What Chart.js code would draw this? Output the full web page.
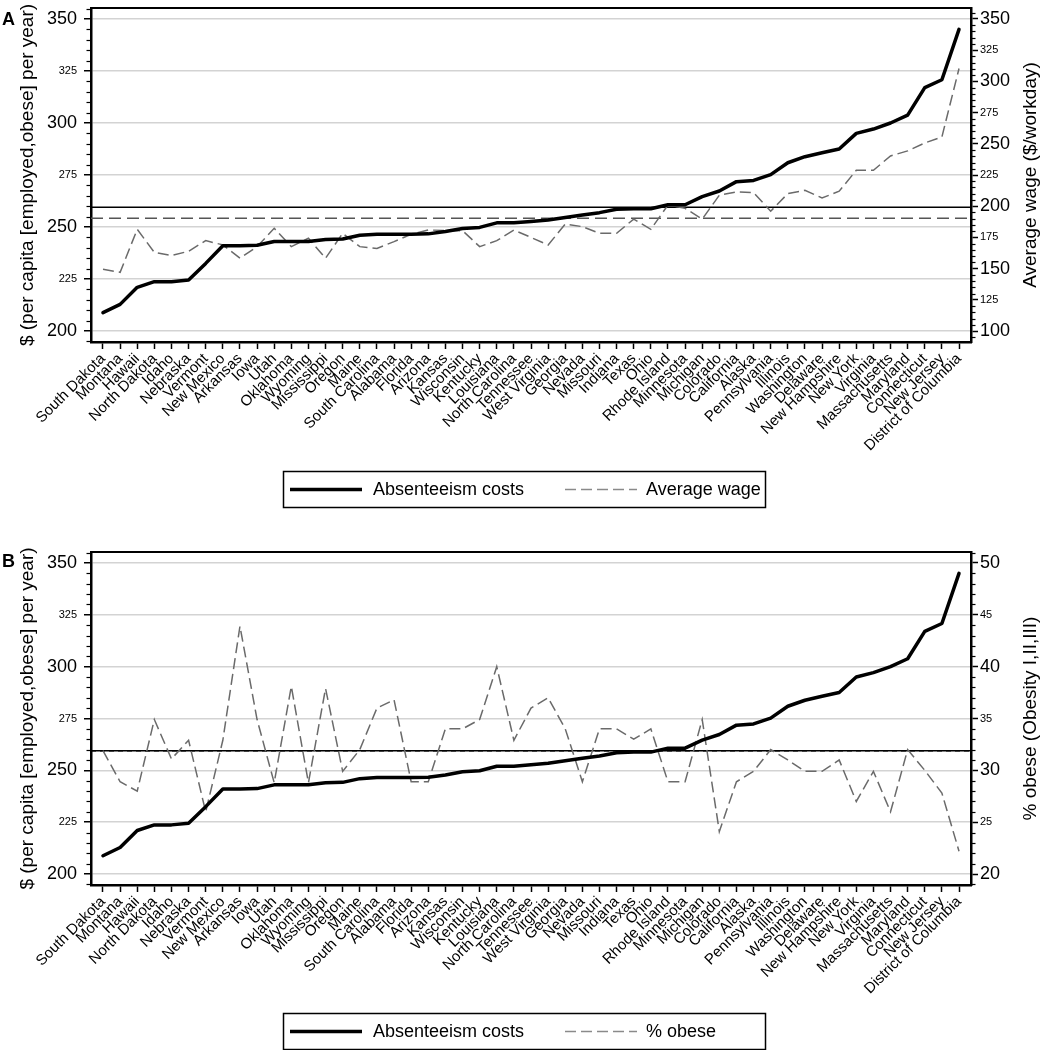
<!DOCTYPE html>
<html><head><meta charset="utf-8">
<script src="https://cdn.jsdelivr.net/npm/chart.js@4.4.1/dist/chart.umd.min.js"></script>
<style>
html,body{margin:0;padding:0;background:#fff;}
#wrap{position:relative;width:1041px;height:1050px;}
#cA{position:absolute;left:0;top:0;width:1041px;height:520px;}
#cB{position:absolute;left:0;top:520px;width:1041px;height:530px;}
</style></head><body>
<div id="wrap"><canvas id="cA" width="1041" height="520"></canvas><canvas id="cB" width="1041" height="530"></canvas></div>
<script>
const states = ["South Dakota","Montana","Hawaii","North Dakota","Idaho","Nebraska","Vermont","New Mexico","Arkansas","Iowa","Utah","Oklahoma","Wyoming","Mississippi","Oregon","Maine","South Carolina","Alabama","Florida","Arizona","Kansas","Wisconsin","Kentucky","Louisiana","North Carolina","Tennessee","West Virginia","Georgia","Nevada","Missouri","Indiana","Texas","Ohio","Rhode Island","Minnesota","Michigan","Colorado","California","Alaska","Pennsylvania","Illinois","Washington","Delaware","New Hampshire","New York","Virginia","Massachusetts","Maryland","Connecticut","New Jersey","District of Columbia"];
const absenteeism = [208.8,212.8,221.0,223.7,223.7,224.5,232.5,241.0,241.0,241.2,243.0,243.0,243.0,244.0,244.2,246.0,246.5,246.5,246.5,246.7,247.8,249.3,249.8,252.0,252.0,252.7,253.4,254.6,255.8,256.9,258.5,258.8,258.8,260.7,260.7,264.6,267.3,271.8,272.4,275.2,280.9,283.8,285.7,287.5,295.0,297.1,300.0,303.8,317.0,320.8,345.0];
const avgWage = [149.4,147.0,181.5,163.0,160.4,163.9,172.4,169.0,158.3,167.6,182.3,167.6,174.3,158.3,178.3,167.6,166.2,171.6,177.5,181.0,180.4,180.4,167.6,172.4,180.9,175.0,168.9,185.7,183.6,178.3,178.3,189.7,181.5,200.9,198.3,189.7,208.8,211.4,210.9,196.0,210.1,212.8,206.6,212.0,228.8,228.8,240.3,244.3,250.7,255.5,310.3];
const pctObese = [31.9,28.9,28.0,34.9,31.1,32.9,26.0,32.9,43.9,34.9,28.8,38.1,28.8,37.9,29.9,32.0,36.0,36.8,28.9,28.9,34.0,34.0,34.9,40.0,32.9,36.0,37.0,34.0,28.9,34.0,34.0,33.0,34.0,28.9,28.9,34.9,24.1,28.9,29.9,32.0,31.0,29.9,29.9,31.0,27.0,29.9,26.0,32.0,30.0,27.8,22.2];
const costTicks = [200,225,250,275,300,325,350];
const wageTicks = [100,125,150,175,200,225,250,275,300,325,350];
const obeseTicks = [20,25,30,35,40,45,50];
const absMean = 259.5;
const wageMean = 190.3;
const obeseMean = 31.9;

const FONT = '"Liberation Sans", Arial, Helvetica, sans-serif';
Chart.defaults.font.family = FONT;
Chart.defaults.color = '#000';

function line(ctx, x1, y1, x2, y2){ctx.beginPath();ctx.moveTo(x1,y1);ctx.lineTo(x2,y2);ctx.stroke();}

const decor = {
  id: 'decor',
  beforeDatasetsDraw(chart, args, o) {
    const {ctx, chartArea: a, scales} = chart;
    ctx.save();
    ctx.beginPath(); ctx.rect(a.left, a.top, a.right - a.left, a.bottom - a.top); ctx.clip();
    const yA = scales.y.getPixelForValue(absMean);
    ctx.strokeStyle = '#000'; ctx.lineWidth = 1.5; ctx.setLineDash([]);
    line(ctx, a.left, yA, a.right, yA);
    const yR = scales.y2.getPixelForValue(o.meanRight);
    ctx.strokeStyle = o.meanColor; ctx.lineWidth = 1.5; ctx.setLineDash(o.meanDash);
    line(ctx, a.left, yR, a.right, yR);
    ctx.restore();
  },
  afterDraw(chart, args, o) {
    const {ctx, chartArea: a, scales} = chart;
    ctx.save();
    ctx.strokeStyle = '#000'; ctx.lineWidth = 2; ctx.setLineDash([]);
    line(ctx, a.left - 1, a.top, a.right + 1, a.top);
    ctx.lineWidth = 1.2;
    const minor = (s, step, dir, x0) => {
      const majors = s.ticks.map(t => t.value);
      const start = Math.ceil(s.min / step) * step;
      for (let v = start; v <= s.max + 1e-9; v += step) {
        const vv = Math.round(v * 1000) / 1000;
        if (majors.some(m => Math.abs(m - vv) < 1e-6)) continue;
        const py = Math.round(s.getPixelForValue(vv)) + 0.5;
        line(ctx, x0, py, x0 + dir * 4.5, py);
      }
    };
    minor(scales.y, 5, -1, a.left);
    minor(scales.y2, o.minorStepRight, 1, a.right);
    ctx.fillStyle = '#000';
    ctx.font = '19px ' + FONT;
    ctx.textAlign = 'center'; ctx.textBaseline = 'middle';
    const cy = (a.top + a.bottom) / 2;
    ctx.save(); ctx.translate(28, cy); ctx.rotate(-Math.PI / 2);
    ctx.fillText('$ (per capita [employed,obese] per year)', 0, 0); ctx.restore();
    ctx.save(); ctx.translate(1031, cy); ctx.rotate(-Math.PI / 2);
    ctx.fillText(o.rightTitle, 0, 0); ctx.restore();
    ctx.font = 'bold 18px ' + FONT;
    ctx.textAlign = 'left'; ctx.textBaseline = 'alphabetic';
    ctx.fillText(o.letter, 2, o.letterY);
    const lt = o.legendTop, lh = 36, lx = 283, lw = 482;
    ctx.strokeStyle = '#000'; ctx.lineWidth = 1.5;
    ctx.strokeRect(lx + 0.5, lt + 0.5, lw, lh);
    const ly = lt + lh / 2 + 0.5;
    const ds = chart.data.datasets;
    const items = [{x: 290, tx: 373, d: ds[0]}, {x: 565, tx: 646, d: ds[1]}];
    ctx.font = '18px ' + FONT; ctx.textBaseline = 'middle'; ctx.fillStyle = '#000';
    items.forEach(it => {
      ctx.strokeStyle = it.d.legendColor || it.d.borderColor;
      ctx.lineWidth = it.d.borderWidth;
      ctx.setLineDash(it.d.borderDash || []);
      line(ctx, it.x, ly, it.x + 72, ly);
      ctx.setLineDash([]);
      ctx.fillText(it.d.label, it.tx, ly + 1);
    });
    ctx.restore();
  }
};

function makeChart(id, H, padTop, chartBottom, right) {
  const xH = H - chartBottom;
  return new Chart(document.getElementById(id), {
    type: 'line',
    data: {
      datasets: [
        {label: 'Absenteeism costs', data: absenteeism.map((v, i) => ({x: i, y: v})), yAxisID: 'y',
         borderColor: '#000', borderWidth: 3.5, pointRadius: 0, tension: 0, borderJoinStyle: 'round', borderCapStyle: 'round', order: 0},
        {label: right.label, data: right.values.map((v, i) => ({x: i, y: v})), yAxisID: 'y2',
         borderColor: '#6a6a6a', legendColor: '#8a8a8a', borderWidth: 1.5, borderDash: [11, 5], pointRadius: 0, tension: 0, order: 1}
      ]
    },
    options: {
      responsive: false, animation: false, devicePixelRatio: 1,
      layout: {padding: {top: padTop, left: 0, right: 0, bottom: 0}},
      plugins: {
        legend: {display: false}, tooltip: {enabled: false},
        decor: {meanRight: right.mean, meanColor: right.meanColor, meanDash: right.meanDash,
                minorStepRight: right.minorStep, rightTitle: right.title, letter: right.letter,
                letterY: right.letterY, legendTop: right.legendTop}
      },
      scales: {
        x: {
          type: 'linear', min: -0.7, max: 50.7, bounds: 'data',
          afterBuildTicks: s => { s.ticks = states.map((_, i) => ({value: i})); },
          afterFit: s => { s.height = xH; s.paddingLeft = 0; s.paddingRight = 0; },
          ticks: {autoSkip: false, minRotation: 45, maxRotation: 45, padding: 1, color: '#000',
                  font: {family: FONT, size: 15}, callback: v => states[v]},
          grid: {drawOnChartArea: false, drawTicks: true, tickLength: 7, tickColor: '#000', tickWidth: 1.5},
          border: {display: true, color: '#000', width: 2.5}
        },
        y: {
          position: 'left', min: 194.71, max: 355.29, bounds: 'data',
          afterBuildTicks: s => { s.ticks = costTicks.map(v => ({value: v})); },
          afterFit: s => { s.width = 91; s.paddingTop = 0; s.paddingBottom = 0; },
          ticks: {padding: 7, color: '#000', callback: v => String(v),
                  font: c => ({family: FONT, size: (c.tick && c.tick.value % 50 === 0) ? 18 : 11})},
          grid: {color: '#d3d3d3', lineWidth: 1.5, tickColor: '#000', tickLength: 7, tickWidth: 1.5},
          border: {color: '#000', width: 2.5}
        },
        y2: {
          position: 'right', min: right.min, max: right.max, bounds: 'data',
          afterBuildTicks: s => { s.ticks = right.ticks.map(v => ({value: v})); },
          afterFit: s => { s.width = 70; s.paddingTop = 0; s.paddingBottom = 0; },
          ticks: {padding: 2, color: '#000', callback: v => String(v),
                  font: c => ({family: FONT, size: (c.tick && right.isMajor(c.tick.value)) ? 18 : 11})},
          grid: {drawOnChartArea: false, tickColor: '#000', tickLength: 7, tickWidth: 1.5},
          border: {color: '#000', width: 2.5}
        }
      }
    },
    plugins: [decor]
  });
}

makeChart('cA', 520, 8, 342, {
  label: 'Average wage', values: avgWage, min: 91.19, max: 358.81, ticks: wageTicks,
  isMajor: v => v % 50 === 0, minorStep: 5, mean: wageMean, meanColor: '#555', meanDash: [12, 6],
  title: 'Average wage ($/workday)', letter: 'A', letterY: 25, legendTop: 471
});
makeChart('cB', 530, 32, 365, {
  label: '% obese', values: pctObese, min: 18.94, max: 51.06, ticks: obeseTicks,
  isMajor: v => v % 10 === 0, minorStep: 1, mean: obeseMean, meanColor: '#000', meanDash: [5, 4],
  title: '% obese (Obesity I,II,III)', letter: 'B', letterY: 47, legendTop: 493
});
</script></body></html>
